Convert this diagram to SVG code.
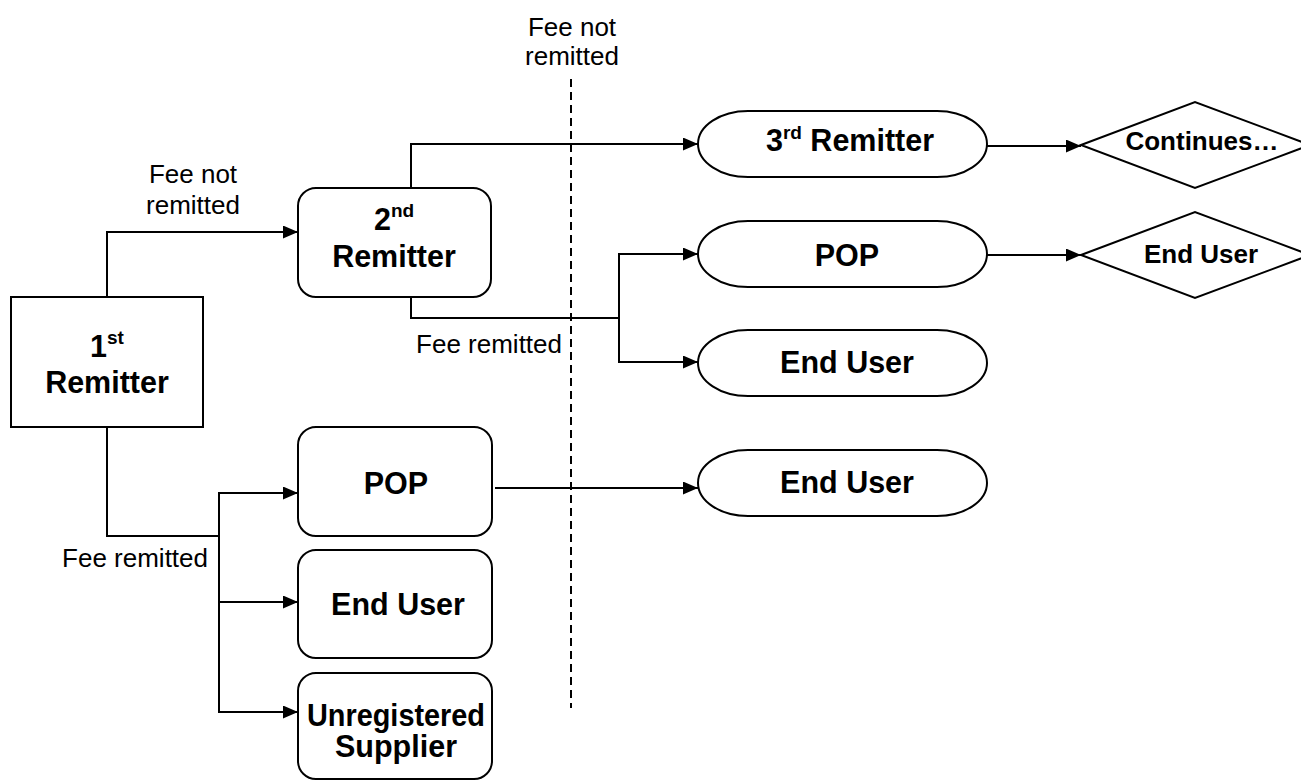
<svg xmlns="http://www.w3.org/2000/svg" width="1301" height="780" viewBox="0 0 1301 780">
<defs>
<marker id="arr" markerUnits="userSpaceOnUse" markerWidth="16" markerHeight="14" refX="15" refY="6.5" orient="auto">
<path d="M0,0 L15,6.5 L0,13 z" fill="#000"/>
</marker>
<style>
.shape{fill:#fff;stroke:#000;stroke-width:2}
.conn{fill:none;stroke:#000;stroke-width:2}
.arrow{marker-end:url(#arr)}
.dash{fill:none;stroke:#000;stroke-width:2;stroke-dasharray:8 5}
.lbl{font-family:"Liberation Sans",Arial,sans-serif;font-size:26px;fill:#000}
.node{font-family:"Liberation Sans",Arial,sans-serif;font-size:30.5px;font-weight:bold;fill:#000;text-anchor:middle}
.dia{font-family:"Liberation Sans",Arial,sans-serif;font-size:26px;font-weight:bold;fill:#000;text-anchor:middle}
.sup{font-size:19px}
</style>
</defs>
<rect width="1301" height="780" fill="#fff"/>

<g id="connectors">
<path class="dash" d="M571,79 V708"/>
<path class="conn arrow" d="M107,296 V232 H298"/>
<path class="conn arrow" d="M411,188 V144 H698"/>
<path class="conn" d="M411,297 V318 H619"/>
<path class="conn arrow" d="M619,318 V254 H698"/>
<path class="conn arrow" d="M619,318 V362 H698"/>
<path class="conn arrow" d="M987,146 H1081"/>
<path class="conn arrow" d="M987,255 H1081"/>
<path class="conn" d="M107,427 V536 H219"/>
<path class="conn arrow" d="M219,536 V493 H298"/>
<path class="conn arrow" d="M219,536 V602 H298"/>
<path class="conn arrow" d="M219,536 V712 H298"/>
<path class="conn arrow" d="M495,488 H698"/>
<text class="lbl" x="193" y="183" text-anchor="middle">Fee not</text>
<text class="lbl" x="193" y="214" text-anchor="middle">remitted</text>
<text class="lbl" x="572" y="36" text-anchor="middle">Fee not</text>
<text class="lbl" x="572" y="65" text-anchor="middle">remitted</text>
<text class="lbl" x="562" y="353" text-anchor="end">Fee remitted</text>
<text class="lbl" x="208" y="567" text-anchor="end">Fee remitted</text>
</g>

<g id="n1">
<rect class="shape" x="11" y="297" width="192" height="130"/>
<text class="node" x="107" y="357">1<tspan class="sup" dy="-13">st</tspan></text>
<text class="node" x="107" y="393">Remitter</text>
</g>

<g id="n2">
<rect class="shape" x="298" y="188" width="193" height="109" rx="18"/>
<text class="node" x="394" y="230">2<tspan class="sup" dy="-13">nd</tspan></text>
<text class="node" x="394" y="267">Remitter</text>
</g>

<g id="n3">
<rect class="shape" x="698" y="111" width="289" height="66" rx="50" ry="33"/>
<text class="node" x="850" y="151">3<tspan class="sup" dy="-12">rd</tspan><tspan dy="12"> Remitter</tspan></text>
</g>

<g id="n4">
<rect class="shape" x="698" y="221" width="289" height="66" rx="50" ry="33"/>
<text class="node" x="847" y="266">POP</text>
</g>

<g id="n5">
<rect class="shape" x="698" y="330" width="289" height="66" rx="50" ry="33"/>
<text class="node" x="847" y="373">End User</text>
</g>

<g id="n6">
<rect class="shape" x="698" y="450" width="289" height="66" rx="50" ry="33"/>
<text class="node" x="847" y="493">End User</text>
</g>

<g id="n7">
<polygon class="shape" points="1081,145 1195,102 1310,145 1195,188"/>
<text class="dia" x="1202" y="150">Continues…</text>
</g>

<g id="n8">
<polygon class="shape" points="1081,255 1195,212 1310,255 1195,298"/>
<text class="dia" x="1201" y="263">End User</text>
</g>

<g id="n9">
<rect class="shape" x="298" y="427" width="194" height="109" rx="18"/>
<text class="node" x="396" y="494">POP</text>
</g>

<g id="n10">
<rect class="shape" x="298" y="550" width="194" height="108" rx="18"/>
<text class="node" x="398" y="615">End User</text>
</g>

<g id="n11">
<rect class="shape" x="298" y="673" width="194" height="106" rx="18"/>
<text class="node" x="396" y="726" textLength="178" lengthAdjust="spacingAndGlyphs">Unregistered</text>
<text class="node" x="396" y="757">Supplier</text>
</g>
</svg>
